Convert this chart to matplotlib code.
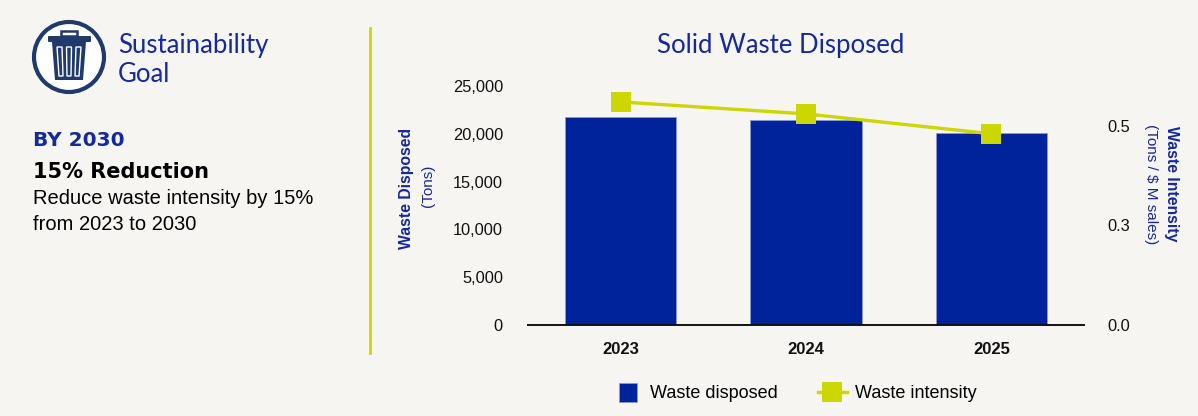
import matplotlib
matplotlib.use('Agg')
import matplotlib.pyplot as plt
import matplotlib.patches as mpatches
from matplotlib.container import BarContainer
from matplotlib.legend_handler import HandlerPatch, update_from_first_child
from matplotlib.ticker import FuncFormatter

# data
years = ['2023', '2024', '2025']
waste_tons = [21750, 21450, 20050]
waste_intensity = [0.56, 0.53, 0.48]
left_ticks = [0, 5000, 10000, 15000, 20000, 25000]
right_ticks = [0.0, 0.25, 0.5]
right_tick_labels = ['0.0', '0.3', '0.5']

BG = '#F6F5F2'
BLUE = '#00239C'
NAVY = '#1F3A6B'
LIME = '#CCD600'
TXTBLUE = '#1428A0'

plt.rcParams['font.family'] = ['Liberation Sans', 'DejaVu Sans']

fig = plt.figure(figsize=(11.98, 4.16), dpi=100)
fig.patch.set_facecolor(BG)
W, H = 1198, 416

def fx(px):
    return px / W

def fy(py):
    return 1 - py / H

# main chart
ax = fig.add_axes([fx(528), fy(325), fx(1084) - fx(528), fy(86) - fy(325)])
ax.set_facecolor(BG)
xs = range(len(years))
bars = ax.bar(xs, waste_tons, width=0.6, color=BLUE, edgecolor='#8C9AD0', linewidth=0.6,
              label='Waste disposed', zorder=2)
ax.set_xlim(-0.5, 2.5)
ax.set_ylim(0, 25000)
ax.set_yticks(left_ticks)
ax.yaxis.set_major_formatter(FuncFormatter(lambda v, p: f'{int(v):,}'))
ax.set_xticks(list(xs))
ax.set_xticklabels(years, fontweight='bold', fontsize=12)
ax.tick_params(axis='y', length=0, pad=18, labelsize=11.8, colors='#111111')
ax.tick_params(axis='x', length=0, pad=12, colors='#111111')
for s in ['top', 'right', 'left']:
    ax.spines[s].set_visible(False)
ax.spines['bottom'].set_color('#111111')
ax.spines['bottom'].set_linewidth(1.4)

ax2 = ax.twinx()
line, = ax2.plot(list(xs), waste_intensity, color=LIME, linewidth=2.4, marker='s',
                 markersize=14, markeredgewidth=0, label='Waste intensity', zorder=3)
ax2.set_ylim(0, 0.6)
ax2.set_yticks(right_ticks)
ax2.set_yticklabels(right_tick_labels)
ax2.tick_params(axis='y', length=0, pad=16.5, labelsize=11.8, colors='#111111')
for s in ['top', 'right', 'left', 'bottom']:
    ax2.spines[s].set_visible(False)

# axis titles
fig.text(fx(406), fy(188), 'Waste Disposed', rotation=90, ha='center', va='center',
         fontsize=11.3, fontweight='bold', color=TXTBLUE)
fig.text(fx(428), fy(186), '(Tons)', rotation=90, ha='center', va='center',
         fontsize=11, color=TXTBLUE)
fig.text(fx(1172), fy(184), 'Waste Intensity', rotation=-90, ha='center', va='center',
         fontsize=11.3, fontweight='bold', color=TXTBLUE)
fig.text(fx(1151), fy(184), '(Tons / $ M sales)', rotation=-90, ha='center', va='center',
         fontsize=11, color=TXTBLUE)

fig.text(fx(781), fy(45), 'Solid Waste Disposed', ha='center', va='center',
         fontsize=18.5, color=TXTBLUE, family=['Lato', 'DejaVu Sans'])


def square_patch(legend, orig_handle, xdescent, ydescent, width, height, fontsize):
    s = 13.5
    return mpatches.Rectangle((width / 2 - s / 2 - xdescent, height / 2 - s / 2 - ydescent), s, s)


fig.legend(handles=[bars, line], loc='center', bbox_to_anchor=(fx(795), fy(394)),
           ncol=2, frameon=False, fontsize=13, handlelength=1.6, columnspacing=2.2,
           handletextpad=0.45, borderaxespad=0,
           handler_map={BarContainer: HandlerPatch(patch_func=square_patch,
                                                   update_func=update_from_first_child)})

# divider
fig.add_artist(plt.Line2D([fx(370), fx(370)], [fy(28), fy(353)], color=LIME, linewidth=2))

# left panel text
fig.text(fx(118), fy(46), 'Sustainability', ha='left', va='center', fontsize=18.5,
         color=TXTBLUE, family=['Lato', 'DejaVu Sans'])
fig.text(fx(118), fy(74), 'Goal', ha='left', va='center', fontsize=18.5,
         color=TXTBLUE, family=['Lato', 'DejaVu Sans'])
fig.text(fx(33), fy(140), 'BY 2030', ha='left', va='center', fontsize=14.5,
         fontweight='bold', color=TXTBLUE, family=['DejaVu Sans'])
fig.text(fx(33), fy(172), '15% Reduction', ha='left', va='center', fontsize=15,
         fontweight='bold', color='black', family=['DejaVu Sans'])
fig.text(fx(33), fy(199), 'Reduce waste intensity by 15%', ha='left', va='center',
         fontsize=14.5, color='black')
fig.text(fx(33), fy(224), 'from 2023 to 2030', ha='left', va='center',
         fontsize=14.5, color='black')

# icon
iax = fig.add_axes([fx(29), fy(97), fx(80), fy(17) - fy(97)])
iax.set_xlim(29, 109)
iax.set_ylim(97, 17)
iax.set_aspect('equal')
iax.axis('off')
iax.add_patch(mpatches.Circle((69, 57), 35, facecolor='white', edgecolor=NAVY, linewidth=3))
iax.add_patch(mpatches.Polygon([(52, 42), (86, 42), (83, 80), (55, 80)], closed=True,
                               facecolor=NAVY, edgecolor='none'))
iax.add_patch(mpatches.FancyBboxPatch((48, 36), 43, 6, boxstyle='round,pad=0,rounding_size=1',
                                      facecolor=NAVY, edgecolor='none'))
iax.add_patch(mpatches.Rectangle((61, 31), 16, 5, facecolor='none', edgecolor=NAVY, linewidth=1.8))
for slot in [[(57, 47), (62, 47), (63, 76), (59, 76)],
             [(66.5, 47), (71.5, 47), (71, 76), (67, 76)],
             [(76, 47), (81, 47), (79, 76), (75, 76)]]:
    iax.add_patch(mpatches.Polygon(slot, closed=True, facecolor='none',
                                   edgecolor='white', linewidth=1.0))

fig.savefig('out.png', dpi=100, facecolor=BG)
